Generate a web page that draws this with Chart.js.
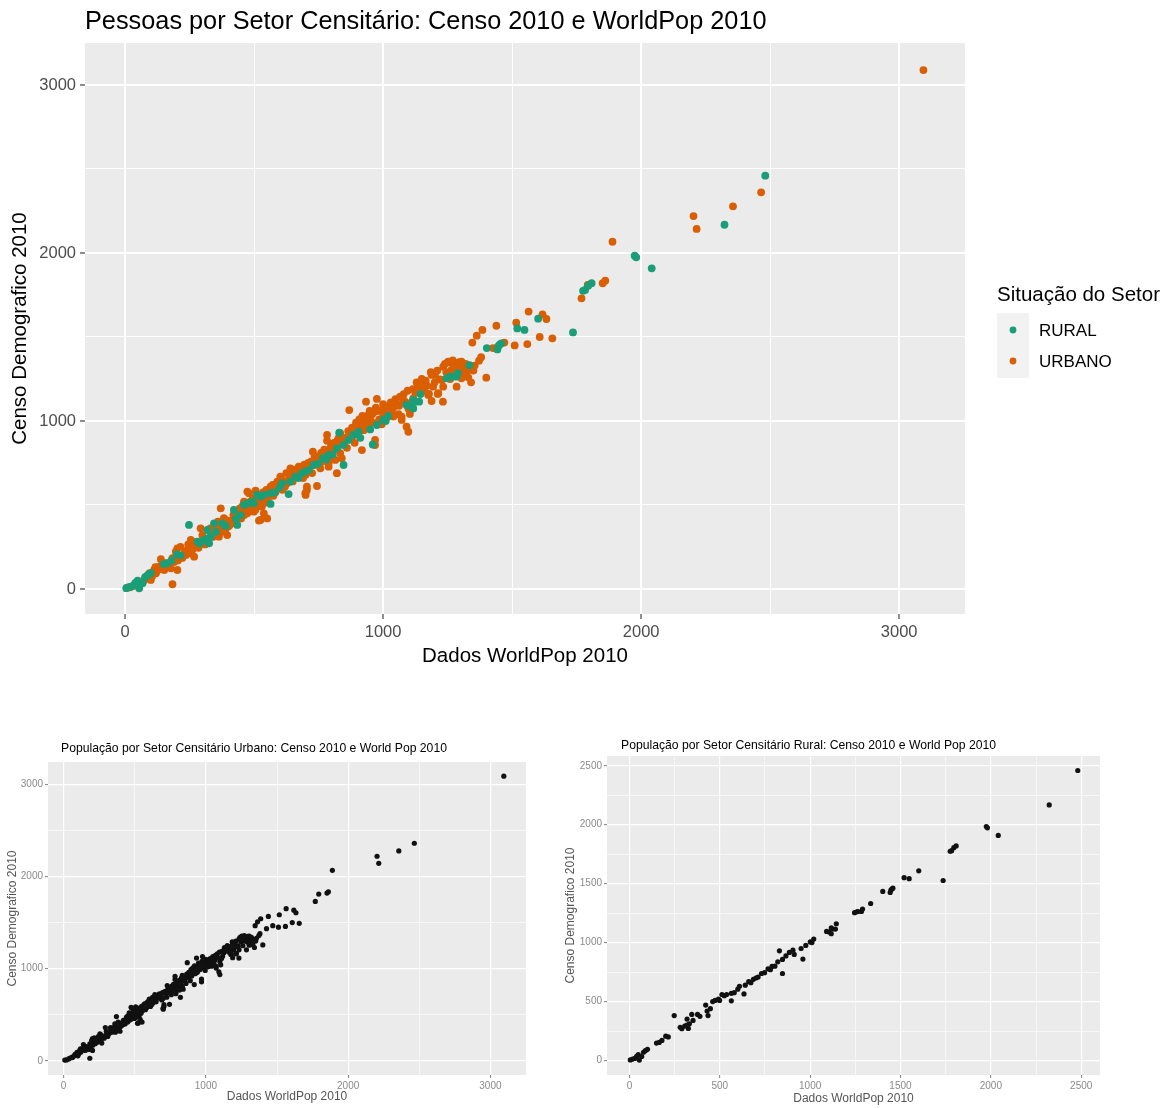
<!DOCTYPE html>
<html><head><meta charset="utf-8">
<script src="https://cdn.jsdelivr.net/npm/chart.js@4.4.1/dist/chart.umd.min.js"></script>
<style>
html,body{margin:0;padding:0;background:#fff;width:1169px;height:1108px;overflow:hidden}
.box{position:absolute}
</style></head>
<body>
<div class="box" style="left:0;top:0;width:1169px;height:690px"><canvas id="main" width="1169" height="690"></canvas></div>
<div class="box" style="left:0;top:700px;width:560px;height:408px"><canvas id="urb" width="560" height="408"></canvas></div>
<div class="box" style="left:560px;top:700px;width:609px;height:408px"><canvas id="rur" width="609" height="408"></canvas></div>
<script>
// ---------- DATA (WorldPop 2010 x, Censo 2010 y) ----------
const ruralPoints = [
[5,5],[18,12],[30,18],[40,36],[49,49],[55,4],[68,34],[78,70],[88,83],[100,95],[150,148],[165,153],[180,170],[201,206],[215,200],
[248,381],[281,282],[290,270],[306,292],[318,300],[326,272],[332,311],[319,351],[345,391],[352,340],[377,391],[390,375],
[422,470],[430,420],[435,381],[448,440],[461,500],[474,510],[493,520],[499,510],[512,560],[525,550],[538,560],[564,570],[564,506],
[580,575],[600,605],[609,629],[634,565],[641,639],[660,669],[672,660],[686,689],[700,700],[712,708],[731,738],[748,745],[767,778],
[780,770],[789,798],[805,800],[821,837],[830,930],[847,857],[847,738],[866,887],[885,917],[905,936],[912,900],[950,950],[960,860],
[976,976],[1001,1006],[1010,1000],[1020,1030],[1091,1095],[1105,1090],[1117,1075],[1117,1125],[1124,1115],[1140,1115],[1145,1160],
[1246,1254],[1258,1262],[1265,1264],[1284,1264],[1290,1285],[1335,1332],[1402,1434],[1443,1426],[1447,1446],[1452,1455],[1458,1462],
[1520,1551],[1548,1542],[1601,1609],[1736,1527],[1775,1775],[1783,1780],[1795,1805],[1808,1820],[1975,1984],[1981,1974],[2041,1909],
[2323,2168],[2481,2460]
];
const urbanPoints = [
[8,8],[20,10],[35,20],[45,30],[60,40],[62,35],[75,54],[80,70],[94,93],[100,54],[105,75],[113,113],[118,130],[120,93],[128,115],
[133,133],[139,177],[142,120],[152,113],[158,153],[160,140],[172,150],[178,123],[184,28],[184,183],[190,160],[197,222],[203,113],
[203,242],[205,170],[215,250],[216,192],[222,185],[228,205],[232,215],[236,202],[242,232],[245,265],[248,220],[255,212],[255,242],
[255,292],[262,235],[265,280],[268,192],[272,255],[280,250],[285,245],[293,361],[298,280],[300,320],[310,265],[315,290],[322,300],
[330,360],[332,341],[340,310],[345,330],[351,361],[352,330],[360,400],[364,311],[371,480],[372,365],[375,340],[383,421],[388,350],
[392,410],[396,321],[400,372],[405,380],[410,405],[416,391],[420,440],[425,415],[432,400],[438,430],[441,470],[445,480],[450,420],
[456,494],[458,470],[461,520],[462,440],[470,500],[474,450],[474,580],[478,470],[480,570],[485,520],[490,480],[495,540],[499,460],
[499,500],[505,470],[506,585],[510,530],[515,500],[519,407],[520,560],[525,411],[525,530],[530,490],[535,575],[538,450],[538,510],
[545,520],[548,590],[551,420],[555,545],[557,580],[560,560],[564,609],[572,620],[575,555],[583,575],[585,600],[590,639],[595,630],
[596,600],[602,669],[608,650],[610,590],[618,640],[620,610],[625,690],[628,629],[634,689],[635,650],[641,718],[645,680],[650,640],
[655,710],[662,700],[668,680],[673,728],[680,698],[685,720],[690,660],[695,740],[699,570],[700,560],[700,680],[705,589],[705,609],
[710,750],[718,730],[722,760],[725,690],[728,817],[735,790],[740,740],[744,613],[744,768],[748,770],[752,790],[757,718],[760,810],
[763,758],[770,770],[772,830],[780,800],[783,883],[783,917],[786,820],[789,728],[789,748],[795,780],[798,850],[802,798],[808,827],
[810,870],[812,840],[815,768],[821,689],[822,880],[825,850],[827,897],[834,808],[834,927],[838,890],[840,778],[850,870],[852,900],
[860,840],[865,940],[869,1065],[873,927],[878,900],[880,960],[885,956],[890,870],[895,990],[900,920],[905,976],[908,1010],[912,950],
[918,827],[920,1030],[924,986],[925,945],[934,1115],[935,1000],[940,960],[943,1036],[948,1060],[952,1000],[958,1040],[960,990],
[969,857],[969,887],[969,1056],[972,1080],[976,1131],[985,1010],[988,1060],[995,980],[1000,1100],[1001,1036],[1008,1046],[1010,1070],
[1015,1020],[1020,1046],[1025,1060],[1027,1095],[1030,1110],[1034,1056],[1040,1026],[1040,1080],[1048,1130],[1055,1100],[1060,1040],
[1062,1090],[1066,1145],[1072,1006],[1072,1026],[1078,1125],[1080,1160],[1085,1115],[1091,966],[1095,1180],[1098,936],[1098,1075],
[1104,1042],[1110,1110],[1115,1190],[1117,1135],[1125,1170],[1130,1230],[1134,1195],[1136,1204],[1143,1214],[1149,1224],[1150,1250],
[1160,1180],[1165,1240],[1170,1210],[1175,1155],[1178,1161],[1185,1290],[1188,1119],[1188,1274],[1194,1204],[1200,1230],[1201,1274],
[1210,1300],[1212,1161],[1214,1165],[1220,1248],[1227,1244],[1232,1115],[1233,1204],[1233,1323],[1240,1340],[1245,1290],[1252,1353],
[1255,1349],[1260,1250],[1265,1304],[1270,1360],[1275,1323],[1285,1204],[1285,1294],[1290,1330],[1295,1350],[1300,1280],[1304,1254],
[1304,1353],[1310,1304],[1315,1290],[1319,1314],[1320,1340],[1323,1284],[1330,1260],[1335,1310],[1341,1230],[1346,1467],[1350,1300],
[1355,1330],[1363,1508],[1372,1359],[1380,1380],[1385,1542],[1400,1258],[1426,1434],[1439,1567],[1470,1467],[1510,1450],
[1516,1585],[1559,1458],[1564,1651],[1607,1500],[1618,1635],[1633,1607],[1656,1492],[1769,1730],[1793,1810],[1851,1820],[1861,1835],
[1889,2067],[2203,2220],[2215,2143],[2356,2278],[2465,2361],[3094,3089]
];
const seriesNames = ['RURAL', 'URBANO'];
const mainTicks = [0, 500, 1000, 1500, 2000, 2500, 3000];
const urbanTicks = [0, 500, 1000, 1500, 2000, 2500, 3000];
const ruralTicks = [0, 250, 500, 750, 1000, 1250, 1500, 1750, 2000, 2250, 2500];

// ---------- helpers ----------
const FONT = '"Liberation Sans", Arial, Helvetica, sans-serif';
const toXY = arr => arr.map(p => ({x: p[0], y: p[1]}));

const panelBg = {
  id: 'panelBg',
  beforeDraw(chart, args, o) {
    const {ctx, chartArea: a} = chart;
    ctx.save();
    ctx.fillStyle = o.color || '#EBEBEB';
    ctx.fillRect(a.left, a.top, a.right - a.left, a.bottom - a.top);
    ctx.restore();
  }
};
const texts = {
  id: 'texts',
  afterDraw(chart, args, o) {
    const ctx = chart.ctx;
    ctx.save();
    (o.boxes || []).forEach(b => { ctx.fillStyle = b.color; ctx.fillRect(b.x, b.y, b.w, b.h); });
    (o.dots || []).forEach(d => { ctx.fillStyle = d.color; ctx.beginPath(); ctx.arc(d.x, d.y, d.r, 0, Math.PI * 2); ctx.fill(); });
    (o.items || []).forEach(it => {
      ctx.font = it.font;
      ctx.fillStyle = it.color || '#000';
      ctx.textAlign = it.align || 'left';
      ctx.textBaseline = 'alphabetic';
      ctx.fillText(it.text, it.x, it.y);
    });
    ctx.restore();
  }
};

function axis(c) {
  return {
    type: 'linear', min: c.min, max: c.max,
    afterBuildTicks: s => { s.ticks = c.ticks.map(v => ({value: v})); },
    afterFit: s => { if (c.isX) s.height = c.size; else s.width = c.size; },
    ticks: {
      autoSkip: false, maxRotation: 0, minRotation: 0, padding: c.pad,
      color: c.labelColor, font: {family: FONT, size: c.labelSize},
      callback: v => (v % c.major === 0 ? String(v) : '')
    },
    grid: {
      drawOnChartArea: true, drawTicks: true, tickLength: c.tickLen,
      color: '#FFFFFF',
      lineWidth: ctx => (ctx.tick && ctx.tick.value % c.major === 0 ? c.majorW : c.minorW),
      tickColor: ctx => (ctx.tick && ctx.tick.value % c.major === 0 ? c.tickColor : 'rgba(0,0,0,0)'),
      tickWidth: 1.1
    },
    border: {display: false},
    title: {display: true, text: c.title, color: c.titleColor, font: {family: FONT, size: c.titleSize}, padding: c.titlePad}
  };
}

function baseOptions(padding, scales, textOpts) {
  return {
    responsive: false, animation: false, events: [],
    layout: {padding},
    plugins: {legend: {display: false}, tooltip: {enabled: false}, panelBg: {color: '#EBEBEB'}, texts: textOpts},
    scales
  };
}

// ---------- main chart ----------
new Chart(document.getElementById('main'), {
  type: 'scatter',
  data: {datasets: [
    {label: seriesNames[0], data: toXY(ruralPoints), backgroundColor: '#1B9E77', pointRadius: 3.9, pointBorderWidth: 0, pointHoverRadius: 3.9},
    {label: seriesNames[1], data: toXY(urbanPoints), backgroundColor: '#D95F02', pointRadius: 3.9, pointBorderWidth: 0, pointHoverRadius: 3.9}
  ]},
  options: baseOptions({left: 0, top: 43, right: 204, bottom: 0}, {
    x: axis({isX: true, min: -155, max: 3255, ticks: mainTicks, major: 1000, size: 76, pad: 4, labelColor: '#4D4D4D', labelSize: 16.5,
      tickLen: 5, tickColor: '#333333', majorW: 2, minorW: 1, title: 'Dados WorldPop 2010', titleColor: '#000', titleSize: 20.5, titlePad: {top: 0, bottom: 21}}),
    y: axis({isX: false, min: -149, max: 3250, ticks: mainTicks, major: 1000, size: 85, pad: 4, labelColor: '#4D4D4D', labelSize: 16.5,
      tickLen: 5, tickColor: '#333333', majorW: 2, minorW: 1, title: 'Censo Demografico 2010', titleColor: '#000', titleSize: 20.5, titlePad: {top: 8, bottom: 0}})
  }, {
    items: [
      {text: 'Pessoas por Setor Censitário: Censo 2010 e WorldPop 2010', x: 85, y: 29, font: '25.3px ' + FONT},
      {text: 'Situação do Setor', x: 997, y: 301, font: '20.5px ' + FONT},
      {text: seriesNames[0], x: 1039, y: 336, font: '17px ' + FONT},
      {text: seriesNames[1], x: 1039, y: 367, font: '17px ' + FONT}
    ],
    boxes: [{x: 997, y: 313, w: 32, h: 65, color: '#F2F2F2'}],
    dots: [{x: 1013, y: 330, r: 3.4, color: '#1B9E77'}, {x: 1013, y: 361, r: 3.4, color: '#D95F02'}]
  }),
  plugins: [panelBg, texts]
});

// ---------- urban chart ----------
new Chart(document.getElementById('urb'), {
  type: 'scatter',
  data: {datasets: [{label: seriesNames[1], data: toXY(urbanPoints), backgroundColor: '#111111', pointRadius: 2.6, pointBorderWidth: 0, pointHoverRadius: 2.6}]},
  options: baseOptions({left: 0, top: 62, right: 34, bottom: 0}, {
    x: axis({isX: true, min: -110, max: 3250, ticks: urbanTicks, major: 1000, size: 33, pad: 2, labelColor: '#8A8A8A', labelSize: 10,
      tickLen: 3, tickColor: '#8A8A8A', majorW: 1.2, minorW: 0.6, title: 'Dados WorldPop 2010', titleColor: '#555555', titleSize: 12, titlePad: {top: 0, bottom: 4}}),
    y: axis({isX: false, min: -154, max: 3243, ticks: urbanTicks, major: 1000, size: 48, pad: 2, labelColor: '#8A8A8A', labelSize: 10,
      tickLen: 3, tickColor: '#8A8A8A', majorW: 1.2, minorW: 0.6, title: 'Censo Demografico 2010', titleColor: '#555555', titleSize: 12, titlePad: {top: 5, bottom: 0}})
  }, {
    items: [{text: 'População por Setor Censitário Urbano: Censo 2010 e World Pop 2010', x: 61, y: 52, font: '12.2px ' + FONT}]
  }),
  plugins: [panelBg, texts]
});

// ---------- rural chart ----------
new Chart(document.getElementById('rur'), {
  type: 'scatter',
  data: {datasets: [{label: seriesNames[0], data: toXY(ruralPoints), backgroundColor: '#111111', pointRadius: 2.6, pointBorderWidth: 0, pointHoverRadius: 2.6}]},
  options: baseOptions({left: 0, top: 56, right: 69, bottom: 0}, {
    x: axis({isX: true, min: -124, max: 2604, ticks: ruralTicks, major: 500, size: 33, pad: 2, labelColor: '#8A8A8A', labelSize: 10,
      tickLen: 3, tickColor: '#8A8A8A', majorW: 1.2, minorW: 0.6, title: 'Dados WorldPop 2010', titleColor: '#555555', titleSize: 12, titlePad: {top: 0, bottom: 2}}),
    y: axis({isX: false, min: -123, max: 2583, ticks: ruralTicks, major: 500, size: 47, pad: 2, labelColor: '#8A8A8A', labelSize: 10,
      tickLen: 3, tickColor: '#8A8A8A', majorW: 1.2, minorW: 0.6, title: 'Censo Demografico 2010', titleColor: '#555555', titleSize: 12, titlePad: {top: 3, bottom: 0}})
  }, {
    items: [{text: 'População por Setor Censitário Rural: Censo 2010 e World Pop 2010', x: 61, y: 49, font: '12.2px ' + FONT}]
  }),
  plugins: [panelBg, texts]
});
</script>
</body></html>
